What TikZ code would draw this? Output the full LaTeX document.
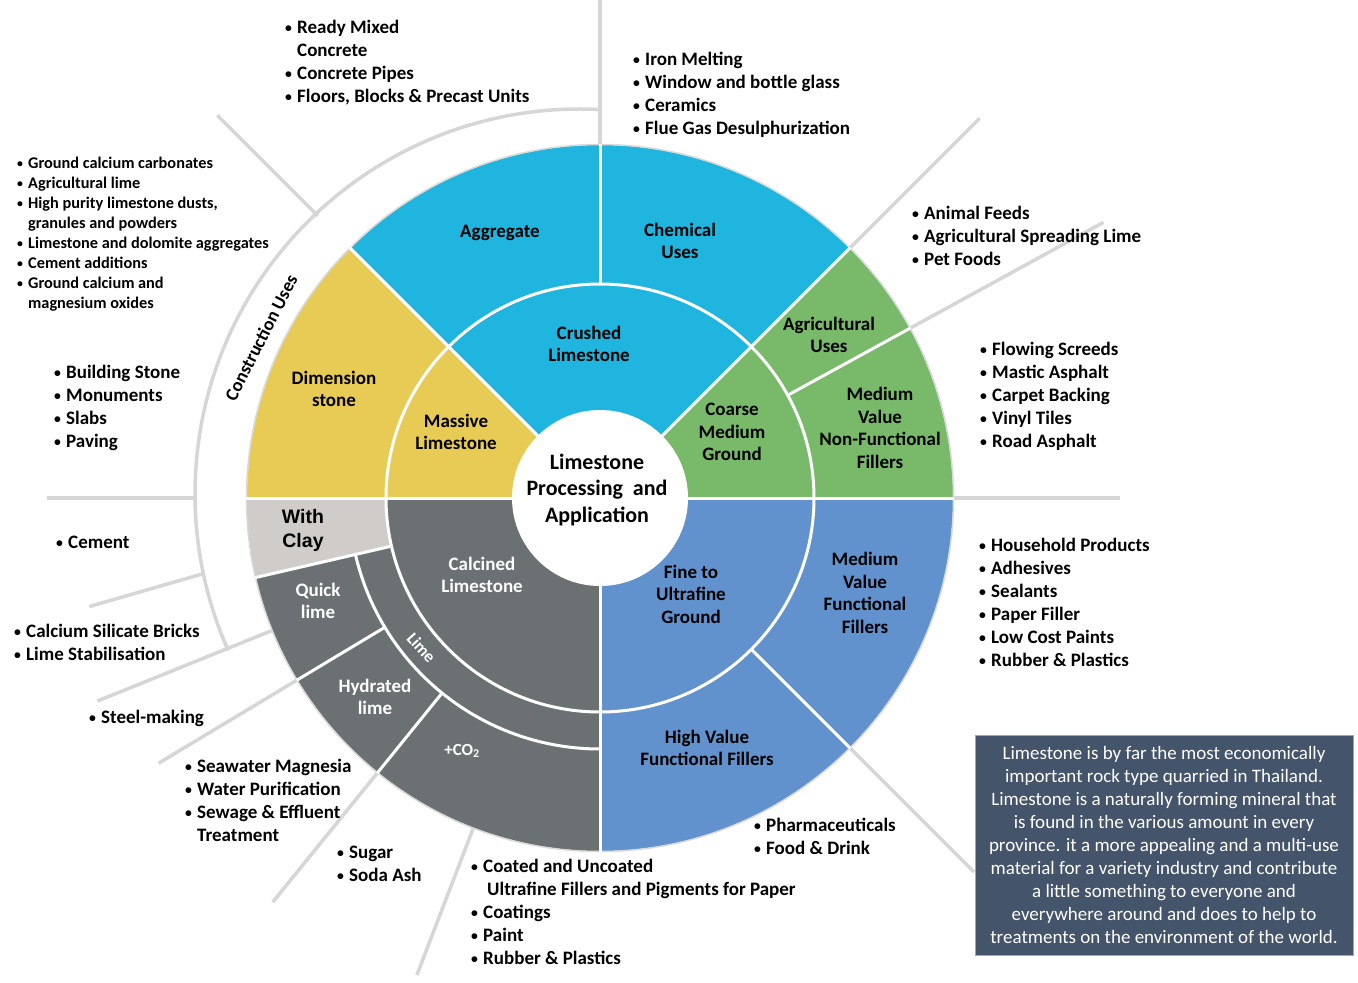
\documentclass[tikz,border=0pt]{standalone}
\usepackage{graphicx}
\usepackage{fontspec}
\setmainfont{Carlito}
\newfontfamily\arialfont{Liberation Sans}
\definecolor{cyanA}{HTML}{1FB5DE}
\definecolor{greenA}{HTML}{79BA6A}
\definecolor{yellowA}{HTML}{E8CB55}
\definecolor{blueA}{HTML}{6292CD}
\definecolor{grayA}{HTML}{6B7173}
\definecolor{clayA}{HTML}{CFCCCA}
\definecolor{boxA}{HTML}{44546A}
\definecolor{lineA}{HTML}{D6D6D6}
\newcommand\bul{\makebox[12pt][l]{\raisebox{0.6pt}{\scalebox{0.72}{\textbullet}}}}
\newcommand\sbul{\makebox[11pt][l]{\raisebox{0.5pt}{\scalebox{0.72}{\textbullet}}}}
\newcommand\blk[1]{\begin{tabular}[t]{@{}l@{}}#1\end{tabular}}
\begin{document}
\begin{tikzpicture}[x=1pt,y=1pt,
  lbl/.style={font=\fontsize{19}{22.5}\selectfont\bfseries, align=center, inner sep=0pt},
  wlbl/.style={lbl, text=white},
  blist/.style={font=\fontsize{19}{23}\selectfont\bfseries, anchor=base west, inner sep=0pt},
  slist/.style={font=\fontsize{16.3}{20}\selectfont\bfseries, anchor=base west, inner sep=0pt},
  guide/.style={lineA, line width=3.5pt},
  sep/.style={white, line width=3pt},
]
\useasboundingbox (0,0) rectangle (1358,-983);
\fill[white] (0,0) rectangle (1358,-983);

\begin{scope}[shift={(600,-498)}]
  \coordinate (C) at (0,0);
  % guide lines
  \draw[guide] (90:340) -- (90:500);
  \draw[guide] (45:340) -- (45:537);
  \draw[guide] (28.7:340) -- (28.7:574);
  \draw[guide] (0:340) -- (0:520);
  \draw[guide] (-45:340) -- (-45:529);
  \draw[guide] (249:340) -- (249:511);
  \draw[guide] (231:340) -- (231:520);
  \draw[guide] (211:340) -- (211:515);
  \draw[guide] (202:340) -- (202:542);
  \draw[guide] (190.8:404) -- (192:522);
  \draw[guide] (180:406) -- (180:553);
  \draw[guide] (135:399) -- (135:541);
  \draw[guide, shift={(-20,4)}] (87:385) arc[start angle=87, end angle=204, radius=385];
  % sectors
  \fill[cyanA] (C) -- (45:353) arc[start angle=45,end angle=135,radius=353] -- cycle;
  \fill[greenA] (C) -- (0:353) arc[start angle=0,end angle=45,radius=353] -- cycle;
  \fill[yellowA] (C) -- (135:353) arc[start angle=135,end angle=180,radius=353] -- cycle;
  \fill[grayA] (C) -- (180:353) arc[start angle=180,end angle=270,radius=353] -- cycle;
  \fill[blueA] (C) -- (270:353) arc[start angle=270,end angle=360,radius=353] -- cycle;
  \fill[clayA] (180:214) -- (180:353) arc[start angle=180,end angle=193,radius=353] -- (193:214) arc[start angle=193,end angle=180,radius=214] -- cycle;
  \draw[gray!30, line width=1.5pt] (C) circle (353.5);
  % separators
  \draw[sep] (C) circle (214);
  \draw[sep] (193:251) arc[start angle=193,end angle=270,radius=251];
  \foreach \a in {0,45,135,180,270} \draw[sep] (\a:80) -- (\a:354);
  \draw[sep] (90:214) -- (90:354);
  \foreach \a in {28.7,-45,193} \draw[sep] (\a:214) -- (\a:354);
  \foreach \a in {211,231} \draw[sep] (\a:251) -- (\a:354);
  \fill[white] (C) circle (88);
  \node[font=\fontsize{17}{20}\selectfont\bfseries, text=white, rotate=-48, inner sep=0pt] (lime) at (220:233) {Lime};
  \node[font=\fontsize{18.5}{20}\selectfont\bfseries, rotate=63, inner sep=0pt] (cons) at (154.7:375) {Construction Uses};
\end{scope}

% sector labels
\node[lbl] (agg) at (500,-233) {Aggregate};
\node[lbl] (chem) at (680,-241) {Chemical\\Uses};
\node[lbl] (crush) at (589,-344) {Crushed\\Limestone};
\node[lbl] (agri) at (829,-335) {Agricultural\\Uses};
\node[lbl] (coarse) at (732,-432) {Coarse\\Medium\\Ground};
\node[lbl] (mvnf) at (880,-428) {Medium\\Value\\Non-Functional\\Fillers};
\node[lbl] (dim) at (334,-389) {Dimension\\stone};
\node[lbl] (mass) at (456,-432) {Massive\\Limestone};
\node[font=\fontsize{22}{26.5}\selectfont\bfseries, align=center, inner sep=0pt] (title) at (597,-490) {Limestone\\Processing\ \ and\\Application};
\node[font=\fontsize{19.5}{24}\selectfont\arialfont\bfseries, align=center, inner sep=0pt] (clay) at (303,-530) {With\\Clay};
\node[wlbl] (calc) at (482,-575) {Calcined\\Limestone};
\node[wlbl] (quick) at (318,-601) {Quick\\lime};
\node[wlbl] (hyd) at (375,-697) {Hydrated\\lime};
\node[wlbl, font=\fontsize{17}{20}\selectfont\bfseries] (co2) at (462,-751) {+CO\textsubscript{2}};
\node[lbl] (fine) at (691,-594) {Fine to\\Ultrafine\\Ground};
\node[lbl] (mvf) at (865,-593) {Medium\\Value\\Functional\\Fillers};
\node[lbl] (hvf) at (707,-748) {High Value\\Functional Fillers};

% bullet lists
\node[blist] (l1) at (285,-33) {\blk{\bul Ready Mixed\\ \hspace*{12pt}Concrete\\ \bul Concrete Pipes\\ \bul Floors, Blocks \& Precast Units}};
\node[blist] (l2) at (633,-65) {\blk{\bul Iron Melting\\ \bul Window and bottle glass\\ \bul Ceramics\\ \bul Flue Gas Desulphurization}};
\node[slist] (l3) at (17,-168) {\blk{\sbul Ground calcium carbonates\\ \sbul Agricultural lime\\ \sbul High purity limestone dusts,\\ \hspace*{11pt}granules and powders\\ \sbul Limestone and dolomite aggregates\\ \sbul Cement additions\\ \sbul Ground calcium and\\ \hspace*{11pt}magnesium oxides}};
\node[blist] (l4) at (912,-219) {\blk{\bul Animal Feeds\\ \bul Agricultural Spreading Lime\\ \bul Pet Foods}};
\node[blist] (l5) at (980,-355) {\blk{\bul Flowing Screeds\\ \bul Mastic Asphalt\\ \bul Carpet Backing\\ \bul Vinyl Tiles\\ \bul Road Asphalt}};
\node[blist] (l6) at (54,-378) {\blk{\bul Building Stone\\ \bul Monuments\\ \bul Slabs\\ \bul Paving}};
\node[blist] (l7) at (56,-548) {\blk{\bul Cement}};
\node[blist] (l8) at (979,-551) {\blk{\bul Household Products\\ \bul Adhesives\\ \bul Sealants\\ \bul Paper Filler\\ \bul Low Cost Paints\\ \bul Rubber \& Plastics}};
\node[blist] (l9) at (14,-637) {\blk{\bul Calcium Silicate Bricks\\ \bul Lime Stabilisation}};
\node[blist] (l10) at (89,-723) {\blk{\bul Steel-making}};
\node[blist] (l11) at (185,-772) {\blk{\bul Seawater Magnesia\\ \bul Water Purification\\ \bul Sewage \& Effluent\\ \hspace*{12pt}Treatment}};
\node[blist] (l12) at (337,-858) {\blk{\bul Sugar\\ \bul Soda Ash}};
\node[blist] (l13) at (471,-872) {\blk{\bul Coated and Uncoated\\ \hspace*{16pt}Ultrafine Fillers and Pigments for Paper\\ \bul Coatings\\ \bul Paint\\ \bul Rubber \& Plastics}};
\node[blist] (l14) at (754,-831) {\blk{\bul Pharmaceuticals\\ \bul Food \& Drink}};

% text box
\node[fill=boxA, draw=gray!70, line width=0.8pt, minimum width=378pt, minimum height=220pt, inner sep=0pt,
  text=white, align=center, font=\fontsize{19}{23}\selectfont] (box) at (1164,-845)
 {Limestone is by far the most economically\\
  important rock type quarried in Thailand.\\
  Limestone is a naturally forming mineral that\\
  is found in the various amount in every\\
  province. it a more appealing and a multi-use\\
  material for a variety industry and contribute\\
  a little something to everyone and\\
  everywhere around and does to help to\\
  treatments on the environment of the world.};
\end{tikzpicture}
\end{document}
